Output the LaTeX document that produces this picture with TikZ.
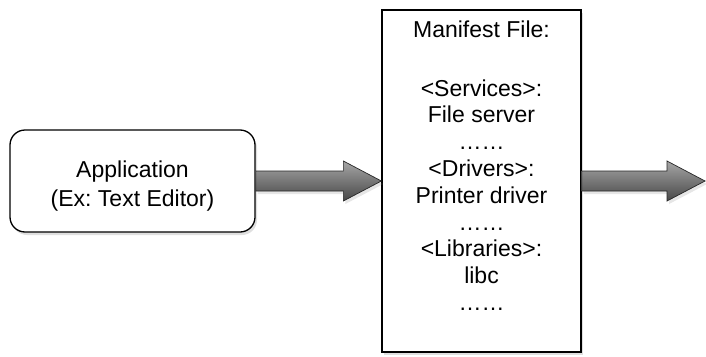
\documentclass[tikz,border=0pt]{standalone}
\usepackage{fontspec}
\setmainfont{Liberation Sans}
\usetikzlibrary{calc,shadows}
\frenchspacing
\tikzset{
  box/.style={draw=black, line width=1.3pt, fill=white,
    drop shadow={shadow xshift=2pt, shadow yshift=-3pt, opacity=0.25}},
  fatarrow/.style={draw=black!85, line width=0.7pt, top color=black!35, bottom color=black!72,
    drop shadow={shadow xshift=2pt, shadow yshift=-3pt, opacity=0.2}},
  label/.style={align=center, inner sep=0pt, font=\fontsize{23}{29}\selectfont}
}
% shaded block arrow from one point to another
\newcommand{\blockarrow}[2]{%
  \path[fatarrow] let \p1=#1, \p2=#2 in
    (\x1,\y1+10pt) -- (\x2-38pt,\y1+10pt) -- (\x2-38pt,\y1+20pt) -- (\x2,\y1)
    -- (\x2-38pt,\y1-20pt) -- (\x2-38pt,\y1-10pt) -- (\x1,\y1-10pt) -- cycle;}
\begin{document}
\begin{tikzpicture}[x=1pt,y=-1pt]
\useasboundingbox (0,0) rectangle (706,356);
\node[box, rounded corners=15pt, minimum width=245pt, minimum height=102pt] (app) at (132.5,181) {};
\node[label] (apptext) at (132.5,186) {Application\\(Ex: Text Editor)};
\node[box, minimum width=199pt, minimum height=342pt] (manifest) at (481.5,181) {};
\node[label, anchor=north, font=\fontsize{23}{26.8}\selectfont] (list) at ($(manifest.north)+(0,11)$)
  {Manifest File:\\[32pt]
   <Services>:\\ File server\\ ……\\
   <Drivers>:\\ Printer driver\\ ……\\
   <Libraries>:\\ libc\\ ……};
\coordinate (out) at (705,180);
\blockarrow{(app.east)}{(manifest.west)}
\blockarrow{(manifest.east)}{(out)}
\end{tikzpicture}
\end{document}
